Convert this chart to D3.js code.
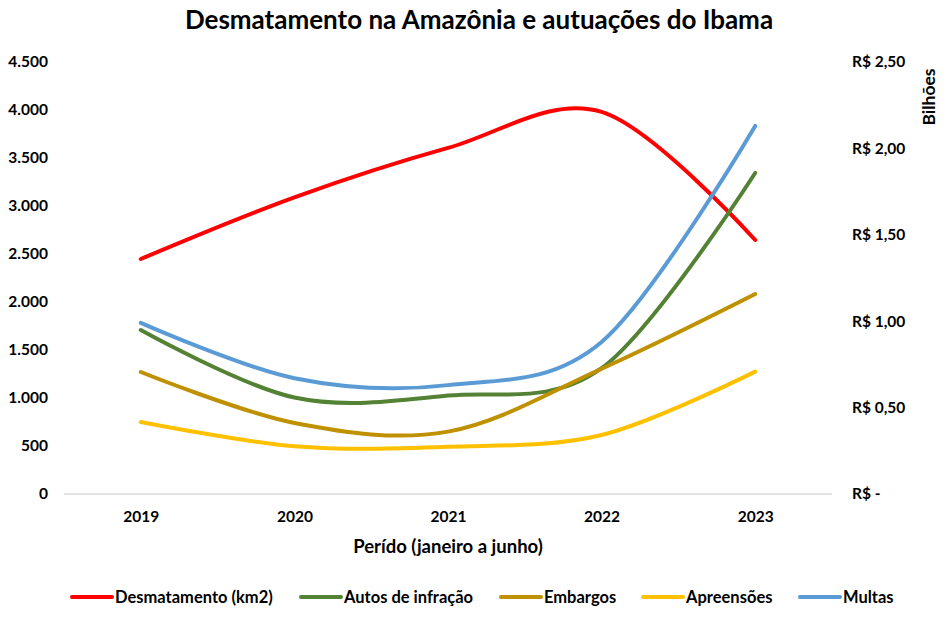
<!DOCTYPE html>
<html>
<head>
<meta charset="utf-8">
<script src="https://cdn.jsdelivr.net/npm/d3@7"></script>
<style>
  body { margin: 0; background: #fff; }
  text { font-family: Lato, "Open Sans", sans-serif; fill: #000; }
</style>
</head>
<body>
<svg id="chart" width="952" height="617"></svg>
<script>
const years = ['2019', '2020', '2021', '2022', '2023'];
const desmatamento = [2448, 3090, 3605, 3980, 2646];
const autos = [1708, 1005, 1025, 1310, 3344];
const embargos = [1271, 740, 650, 1305, 2083];
const apreensoes = [750, 498, 492, 615, 1275];
const multas = [0.99, 0.67, 0.63, 0.88, 2.13]; // R$ bilhões, eixo direito
const leftTicks = [0, 500, 1000, 1500, 2000, 2500, 3000, 3500, 4000, 4500];
const rightTicks = [0, 0.5, 1, 1.5, 2, 2.5];

const series = [
  { name: 'Desmatamento (km2)', values: desmatamento, color: '#FF0000', axis: 'left' },
  { name: 'Autos de infração', values: autos, color: '#548235', axis: 'left' },
  { name: 'Embargos', values: embargos, color: '#BF9000', axis: 'left' },
  { name: 'Apreensões', values: apreensoes, color: '#FFC000', axis: 'left' },
  { name: 'Multas', values: multas, color: '#5B9BD5', axis: 'right' }
];

const svg = d3.select('#chart');
const margin = { top: 62, right: 120, bottom: 123, left: 64 };
const width = 952, height = 617;
const innerWidth = width - margin.left - margin.right;
const innerHeight = height - margin.top - margin.bottom;

const xScale = d3.scalePoint()
  .domain(years)
  .range([0, innerWidth])
  .padding(0.5);

const yLeft = d3.scaleLinear().domain([0, 4500]).range([innerHeight, 0]);
const yRight = d3.scaleLinear().domain([0, 2.5]).range([innerHeight, 0]);

const fmtLeft = d => d3.format(',')(d).replace(/,/g, '.');
const fmtRight = d => d === 0 ? 'R$ -' : 'R$ ' + d3.format('.2f')(d).replace('.', ',');

const g = svg.append('g')
  .attr('transform', `translate(${margin.left},${margin.top})`);

// Title
svg.append('text')
  .attr('x', 479)
  .attr('y', 29)
  .attr('text-anchor', 'middle')
  .attr('font-size', 26)
  .attr('font-weight', 'bold')
  .text('Desmatamento na Amazônia e autuações do Ibama');

// Baseline
g.append('line')
  .attr('x1', 0)
  .attr('x2', innerWidth)
  .attr('y1', yLeft(0))
  .attr('y2', yLeft(0))
  .attr('stroke', '#d9d9d9')
  .attr('stroke-width', 1.5);

const styleAxis = a => {
  a.attr('font-size', 15.5)
    .attr('font-weight', 'bold')
    .attr('font-family', 'Lato, sans-serif');
  a.select('.domain').remove();
  a.selectAll('.tick text').attr('fill', '#000');
};

// Left axis
g.append('g')
  .call(d3.axisLeft(yLeft).tickValues(leftTicks).tickSize(0).tickPadding(16).tickFormat(fmtLeft))
  .call(styleAxis);

// Right axis
g.append('g')
  .attr('transform', `translate(${innerWidth},0)`)
  .call(d3.axisRight(yRight).tickValues(rightTicks).tickSize(0).tickPadding(20).tickFormat(fmtRight))
  .call(styleAxis);

// X axis
g.append('g')
  .attr('transform', `translate(0,${innerHeight})`)
  .call(d3.axisBottom(xScale).tickSize(0).tickPadding(17))
  .call(styleAxis);

// Axis titles
svg.append('text')
  .attr('x', margin.left + innerWidth / 2)
  .attr('y', 553)
  .attr('text-anchor', 'middle')
  .attr('font-size', 18.5)
  .attr('font-weight', 'bold')
  .text('Perído (janeiro a junho)');

svg.append('text')
  .attr('transform', 'translate(935,97) rotate(-90)')
  .attr('text-anchor', 'middle')
  .attr('textLength', 57)
  .attr('lengthAdjust', 'spacingAndGlyphs')
  .attr('font-size', 17)
  .attr('font-weight', 'bold')
  .text('Bilhões');

// Lines
series.forEach(s => {
  const y = s.axis === 'left' ? yLeft : yRight;
  const line = d3.line()
    .x((d, i) => xScale(years[i]))
    .y(d => y(d))
    .curve(d3.curveCardinal.tension(0));
  g.append('path')
    .datum(s.values)
    .attr('fill', 'none')
    .attr('stroke', s.color)
    .attr('stroke-width', 4)
    .attr('stroke-linecap', 'round')
    .attr('d', line);
});

// Legend
const legendX = [72, 301, 501, 643, 800];
const legend = svg.append('g').attr('transform', 'translate(0,597)');
series.forEach((s, i) => {
  const item = legend.append('g').attr('transform', `translate(${legendX[i]},0)`);
  item.append('line')
    .attr('x1', 0).attr('x2', 40)
    .attr('y1', 0).attr('y2', 0)
    .attr('stroke', s.color)
    .attr('stroke-width', 4)
    .attr('stroke-linecap', 'round');
  item.append('text')
    .attr('x', 43)
    .attr('dy', '0.35em')
    .attr('font-size', 16.5)
    .attr('font-weight', 'bold')
    .text(s.name);
});
</script>
</body>
</html>
